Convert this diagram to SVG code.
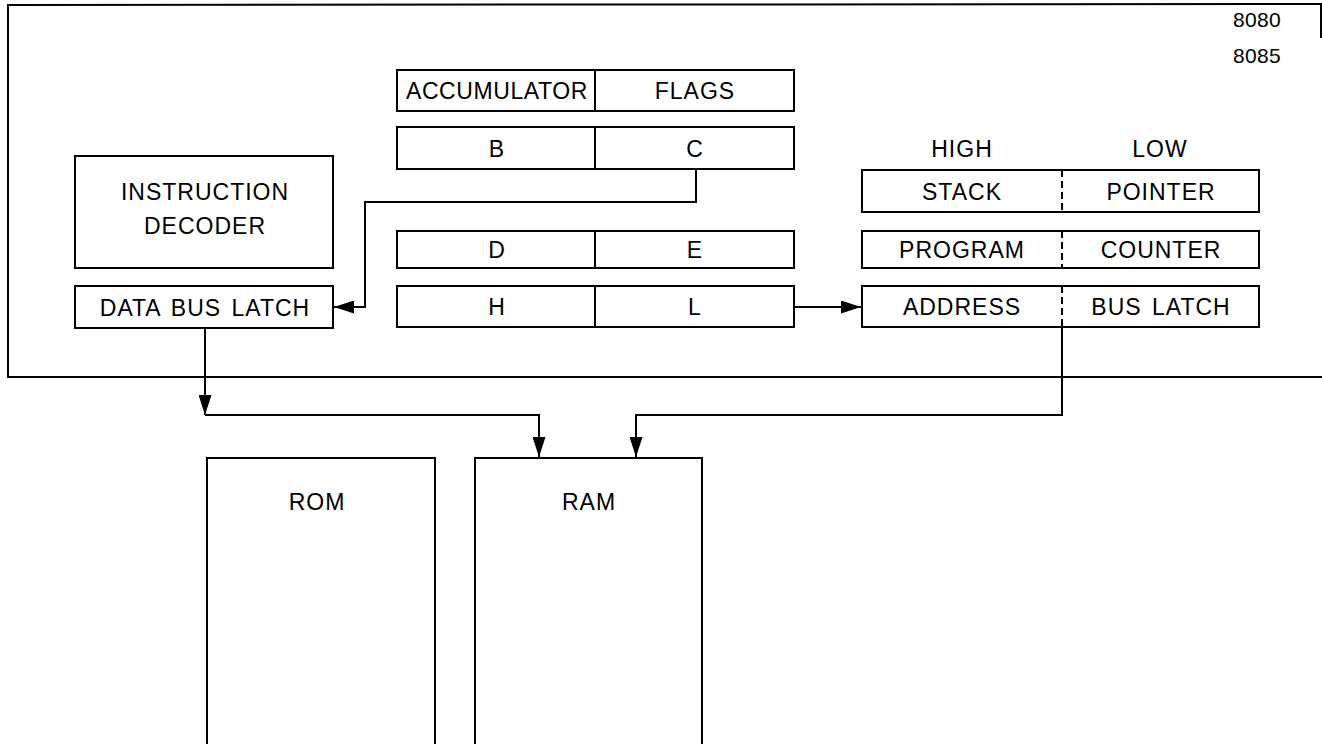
<svg xmlns="http://www.w3.org/2000/svg" width="1322" height="744" viewBox="0 0 1322 744">
<defs>
<style>
.box{fill:none;stroke:#000;stroke-width:2}
.ln{fill:none;stroke:#000;stroke-width:2}
.dash{fill:none;stroke:#000;stroke-width:2;stroke-dasharray:7,4}
text{font-family:"Liberation Sans",Arial,sans-serif;font-size:23px;fill:#000;text-anchor:middle;letter-spacing:1px;word-spacing:3px}
.num{font-size:21px;letter-spacing:0.3px}
</style>
<marker id="ah" markerUnits="userSpaceOnUse" markerWidth="20" markerHeight="13" refX="20" refY="6.5" orient="auto">
<path d="M0,0 L20,6.5 L0,13 Z" fill="#000"/>
</marker>
</defs>
<rect width="1322" height="744" fill="#fff"/>
<g id="cpu-frame">
<path class="ln" d="M1321,38 L1321,4 L8,5 L8,377 L1322,377"/>
<text class="num" x="1257" y="27">8080</text>
<text class="num" x="1257" y="63">8085</text>
</g>
<g id="acc-flags">
<rect class="box" x="397" y="70" width="397" height="41"/>
<line class="ln" x1="595" y1="70" x2="595" y2="111"/>
<text x="497" y="99" style="letter-spacing:0.6px">ACCUMULATOR</text>
<text x="695" y="99">FLAGS</text>
</g>
<g id="bc">
<rect class="box" x="397" y="127" width="397" height="42"/>
<line class="ln" x1="595" y1="127" x2="595" y2="169"/>
<text x="497" y="157">B</text>
<text x="695" y="157">C</text>
</g>
<g id="de">
<rect class="box" x="397" y="231" width="397" height="37"/>
<line class="ln" x1="595" y1="231" x2="595" y2="268"/>
<text x="497" y="258">D</text>
<text x="695" y="258">E</text>
</g>
<g id="hl">
<rect class="box" x="397" y="286" width="397" height="41"/>
<line class="ln" x1="595" y1="286" x2="595" y2="327"/>
<text x="497" y="315">H</text>
<text x="695" y="315">L</text>
</g>
<g id="instruction-decoder">
<rect class="box" x="75" y="156" width="258" height="112"/>
<text x="205" y="200">INSTRUCTION</text>
<text x="205" y="234">DECODER</text>
</g>
<g id="data-bus-latch">
<rect class="box" x="75" y="286" width="258" height="42"/>
<text x="205" y="316">DATA BUS LATCH</text>
</g>
<g id="high-low-labels">
<text x="962" y="157">HIGH</text>
<text x="1160" y="157">LOW</text>
</g>
<g id="stack-pointer">
<rect class="box" x="862" y="170" width="397" height="42"/>
<line class="dash" x1="1062" y1="170" x2="1062" y2="212"/>
<text x="962" y="200">STACK</text>
<text x="1161" y="200">POINTER</text>
</g>
<g id="program-counter">
<rect class="box" x="862" y="231" width="397" height="37"/>
<line class="dash" x1="1062" y1="231" x2="1062" y2="268"/>
<text x="962" y="258">PROGRAM</text>
<text x="1161" y="258">COUNTER</text>
</g>
<g id="address-bus-latch">
<rect class="box" x="862" y="286" width="397" height="41"/>
<line class="dash" x1="1062" y1="286" x2="1062" y2="327"/>
<text x="962" y="315">ADDRESS</text>
<text x="1161" y="315">BUS LATCH</text>
</g>
<g id="rom">
<path class="box" d="M207,745 L207,458 L435,458 L435,745"/>
<text x="317" y="510">ROM</text>
</g>
<g id="ram">
<path class="box" d="M475,745 L475,458 L702,458 L702,745"/>
<text x="589" y="510">RAM</text>
</g>
<g id="connectors">
<path class="ln" d="M696,169 L696,202 L365,202 L365,307 L334,307" marker-end="url(#ah)"/>
<path class="ln" d="M794,307 L861,307" marker-end="url(#ah)"/>
<path class="ln" d="M205,328 L205,415" marker-end="url(#ah)"/>
<path class="ln" d="M205,415 L539,415 L539,457" marker-end="url(#ah)"/>
<path class="ln" d="M1062,327 L1062,415 L636,415 L636,457" marker-end="url(#ah)"/>
</g>
</svg>
